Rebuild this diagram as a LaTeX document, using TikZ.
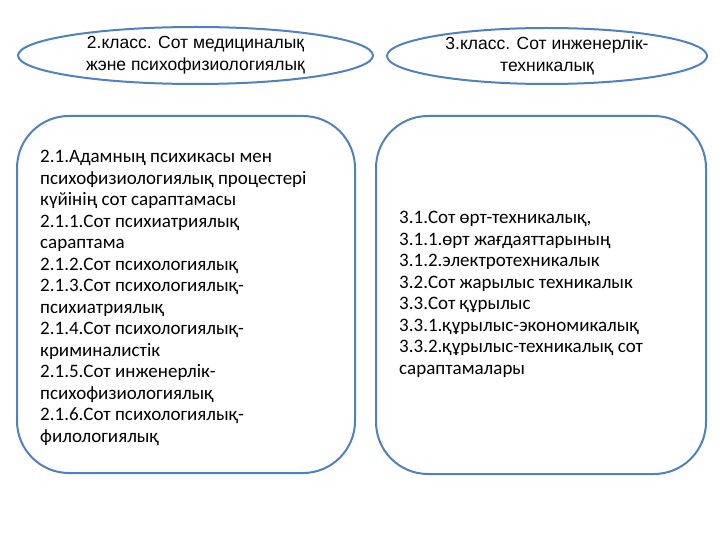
\documentclass[tikz,border=0pt]{standalone}
\usepackage{fontspec}
\setmainfont{Carlito}
\newfontfamily\arialfont{Liberation Sans}
\usetikzlibrary{shapes.geometric}

\definecolor{rimblue}{RGB}{79,129,189}

\tikzset{
  klass/.style={ellipse, draw=rimblue, line width=2pt, inner sep=0pt,
    align=center, font=\arialfont\fontsize{17.5}{22}\selectfont},
  sarapbox/.style={draw=rimblue, line width=2pt, rounded corners=52pt},
  saraptext/.style={anchor=north west, inner sep=0pt, align=left,
    font=\fontsize{19}{21.5}\selectfont}
}

\begin{document}
\begin{tikzpicture}[x=1pt,y=-1pt]

\useasboundingbox (0,0) rectangle (720,540);

% the two classes of expertise
\node[klass, minimum width=355pt, minimum height=57pt] (klass2) at (195.5,55.5)
  {2.класс. Сот медициналық\\жэне психофизиологиялық};
\node[klass, minimum width=320pt, minimum height=56pt] (klass3) at (547,56)
  {3.класс. Сот инженерлік-\\техникалық};

% the boxes below them
\draw[sarapbox] (17,116) rectangle (355,473);
\draw[sarapbox] (376,116) rectangle (706,474);

\node[saraptext] (sarap2) at (40,150) {2.1.Адамның психикасы мен\\
психофизиологиялық процестері\\
күйінің сот сараптамасы\\
2.1.1.Сот психиатриялық\\
сараптама\\
2.1.2.Сот психологиялық\\
2.1.3.Сот психологиялық-\\
психиатриялық\\
2.1.4.Сот психологиялық-\\
криминалистік\\
2.1.5.Сот инженерлік-\\
психофизиологиялық\\
2.1.6.Сот психологиялық-\\
филологиялық};

\node[saraptext] (sarap3) at (399,211) {3.1.Сот өрт-техникалық,\\
3.1.1.өрт жағдаяттарының\\
3.1.2.электротехникалык\\
3.2.Сот жарылыс техникалык\\
3.3.Сот құрылыс\\
3.3.1.құрылыс-экономикалық\\
3.3.2.құрылыс-техникалық сот\\
сараптамалары};

\end{tikzpicture}
\end{document}
